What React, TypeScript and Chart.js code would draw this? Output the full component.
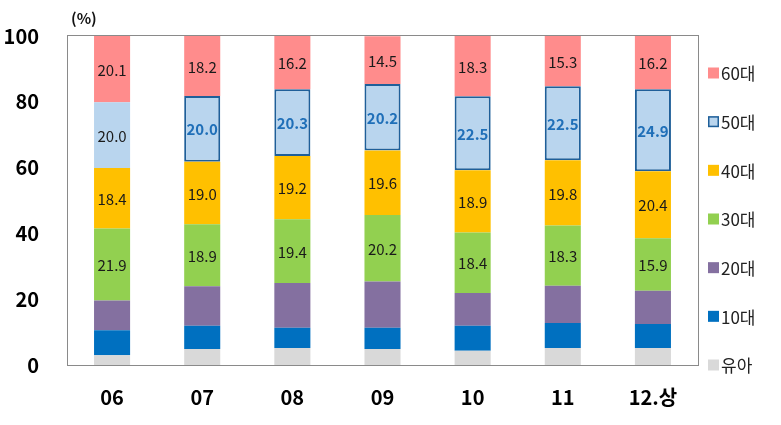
import React, { useEffect, useRef } from "react";
import { Chart, registerables } from "chart.js";

Chart.register(...registerables);

const categories = ["06", "07", "08", "09", "10", "11", "12.상"];
const yTicks = [0, 20, 40, 60, 80, 100];
const seriesNames = ["유아", "10대", "20대", "30대", "40대", "50대", "60대"];
const infant = [3.0, 4.9, 5.2, 4.9, 4.3, 5.2, 5.2];
const teens = [7.6, 7.0, 6.1, 6.4, 7.6, 7.6, 7.3];
const twenties = [9.0, 12.0, 13.6, 14.1, 10.0, 11.3, 10.1];
const thirties = [21.9, 18.9, 19.4, 20.2, 18.4, 18.3, 15.9];
const forties = [18.4, 19.0, 19.2, 19.6, 18.9, 19.8, 20.4];
const fifties = [20.0, 20.0, 20.3, 20.2, 22.5, 22.5, 24.9];
const sixties = [20.1, 18.2, 16.2, 14.5, 18.3, 15.3, 16.2];

const colors = ["#D9D9D9", "#0070C0", "#8470A0", "#92D050", "#FFC000", "#B9D5EE", "#FF8C8C"];
const FONT = "'Noto Sans CJK KR', 'Noto Sans', sans-serif";
const BOX_BLUE = "#1F5F99";
const LABEL_BLUE = "#1F6FB8";

const labelPlugin = {
  id: "segLabels",
  afterDatasetsDraw(chart: any) {
    const ctx = chart.ctx;
    ctx.save();
    ctx.textAlign = "center";
    ctx.textBaseline = "middle";
    for (let i = 3; i < chart.data.datasets.length; i++) {
      const meta = chart.getDatasetMeta(i);
      const ds = chart.data.datasets[i];
      meta.data.forEach((bar: any, j: number) => {
        const p = bar.getProps(["x", "y", "base"], true);
        const cy = (p.y + p.base) / 2;
        const special = i === 5 && j > 0;
        ctx.font = (special ? "bold 15px " : "15px ") + FONT;
        ctx.fillStyle = special ? LABEL_BLUE : "#1a1a1a";
        ctx.fillText(Number(ds.data[j]).toFixed(1), p.x, cy + 1);
      });
    }
    ctx.restore();
  },
};

const framePlugin = {
  id: "frame",
  beforeDatasetsDraw(chart: any) {
    const { ctx, chartArea } = chart;
    ctx.save();
    ctx.strokeStyle = "#8a8a8a";
    ctx.lineWidth = 1;
    ctx.strokeRect(
      Math.round(chartArea.left) + 0.5,
      Math.round(chartArea.top) - 0.5,
      Math.round(chartArea.right - chartArea.left),
      Math.round(chartArea.bottom - chartArea.top) + 1
    );
    ctx.restore();
  },
  afterDraw(chart: any) {
    const { ctx, chartArea } = chart;
    ctx.save();
    ctx.font = "bold 15px " + FONT;
    ctx.fillStyle = "#111";
    ctx.textAlign = "left";
    ctx.textBaseline = "middle";
    ctx.fillText("(%)", chartArea.left + 4, 18);
    // legend
    const n = chart.data.datasets.length;
    const startY = chartArea.top + 37;
    const step = (chartArea.bottom - startY) / (n - 1);
    const sx = chartArea.right + 10;
    for (let k = 0; k < n; k++) {
      const i = n - 1 - k;
      const ds = chart.data.datasets[i];
      const cy = startY + k * step;
      ctx.fillStyle = colors[i];
      ctx.fillRect(sx, cy - 5.5, 11, 11);
      if (i === 5) {
        ctx.strokeStyle = BOX_BLUE;
        ctx.lineWidth = 1.5;
        ctx.strokeRect(sx + 0.75, cy - 4.75, 9.5, 9.5);
      }
      ctx.font = "17px " + FONT;
      ctx.fillStyle = "#222";
      ctx.fillText(ds.label, sx + 13, cy + 1);
    }
    ctx.restore();
  },
};

export default function App() {
  const ref = useRef<HTMLCanvasElement>(null);
  useEffect(() => {
    if (!ref.current) return;
    const series = [infant, teens, twenties, thirties, forties, fifties, sixties];
    const chart = new Chart(ref.current, {
      type: "bar",
      data: {
        labels: categories,
        datasets: series.map((d, i) => ({
          label: seriesNames[i],
          data: d,
          backgroundColor: colors[i],
          borderColor: i === 5 ? BOX_BLUE : colors[i],
          borderWidth: i === 5 ? categories.map((_, j) => (j === 0 ? 0 : 2)) : 0,
          borderSkipped: false,
          barPercentage: 0.4,
          categoryPercentage: 1,
        })),
      },
      options: {
        responsive: false,
        animation: false,
        devicePixelRatio: 1,
        layout: { padding: { top: 36, right: 83, bottom: 0, left: 0 } },
        plugins: { legend: { display: false }, tooltip: { enabled: false } },
        scales: {
          x: {
            stacked: true,
            grid: { display: false, drawTicks: false },
            border: { display: false },
            ticks: { color: "#000", font: { family: FONT, size: 20, weight: "bold" }, padding: 20 },
            afterFit: (s: any) => {
              s.height = 60;
              s.paddingLeft = 0;
              s.paddingRight = 0;
            },
          },
          y: {
            stacked: true,
            min: 0,
            max: 100,
            afterBuildTicks: (s: any) => {
              s.ticks = yTicks.map((v) => ({ value: v }));
            },
            grid: { display: false, drawTicks: false },
            border: { display: false },
            ticks: { color: "#000", font: { family: FONT, size: 20, weight: "bold" }, padding: 28 },
            afterFit: (s: any) => {
              s.width = 67;
              s.paddingTop = 0;
              s.paddingBottom = 0;
            },
          },
        },
      },
      plugins: [framePlugin, labelPlugin],
    } as any);
    return () => chart.destroy();
  }, []);
  return (
    <div style={{ position: "absolute", left: 0, top: 0, width: 781, height: 425, background: "#fff" }}>
      <canvas ref={ref} width={781} height={425} style={{ display: "block" }} />
    </div>
  );
}
